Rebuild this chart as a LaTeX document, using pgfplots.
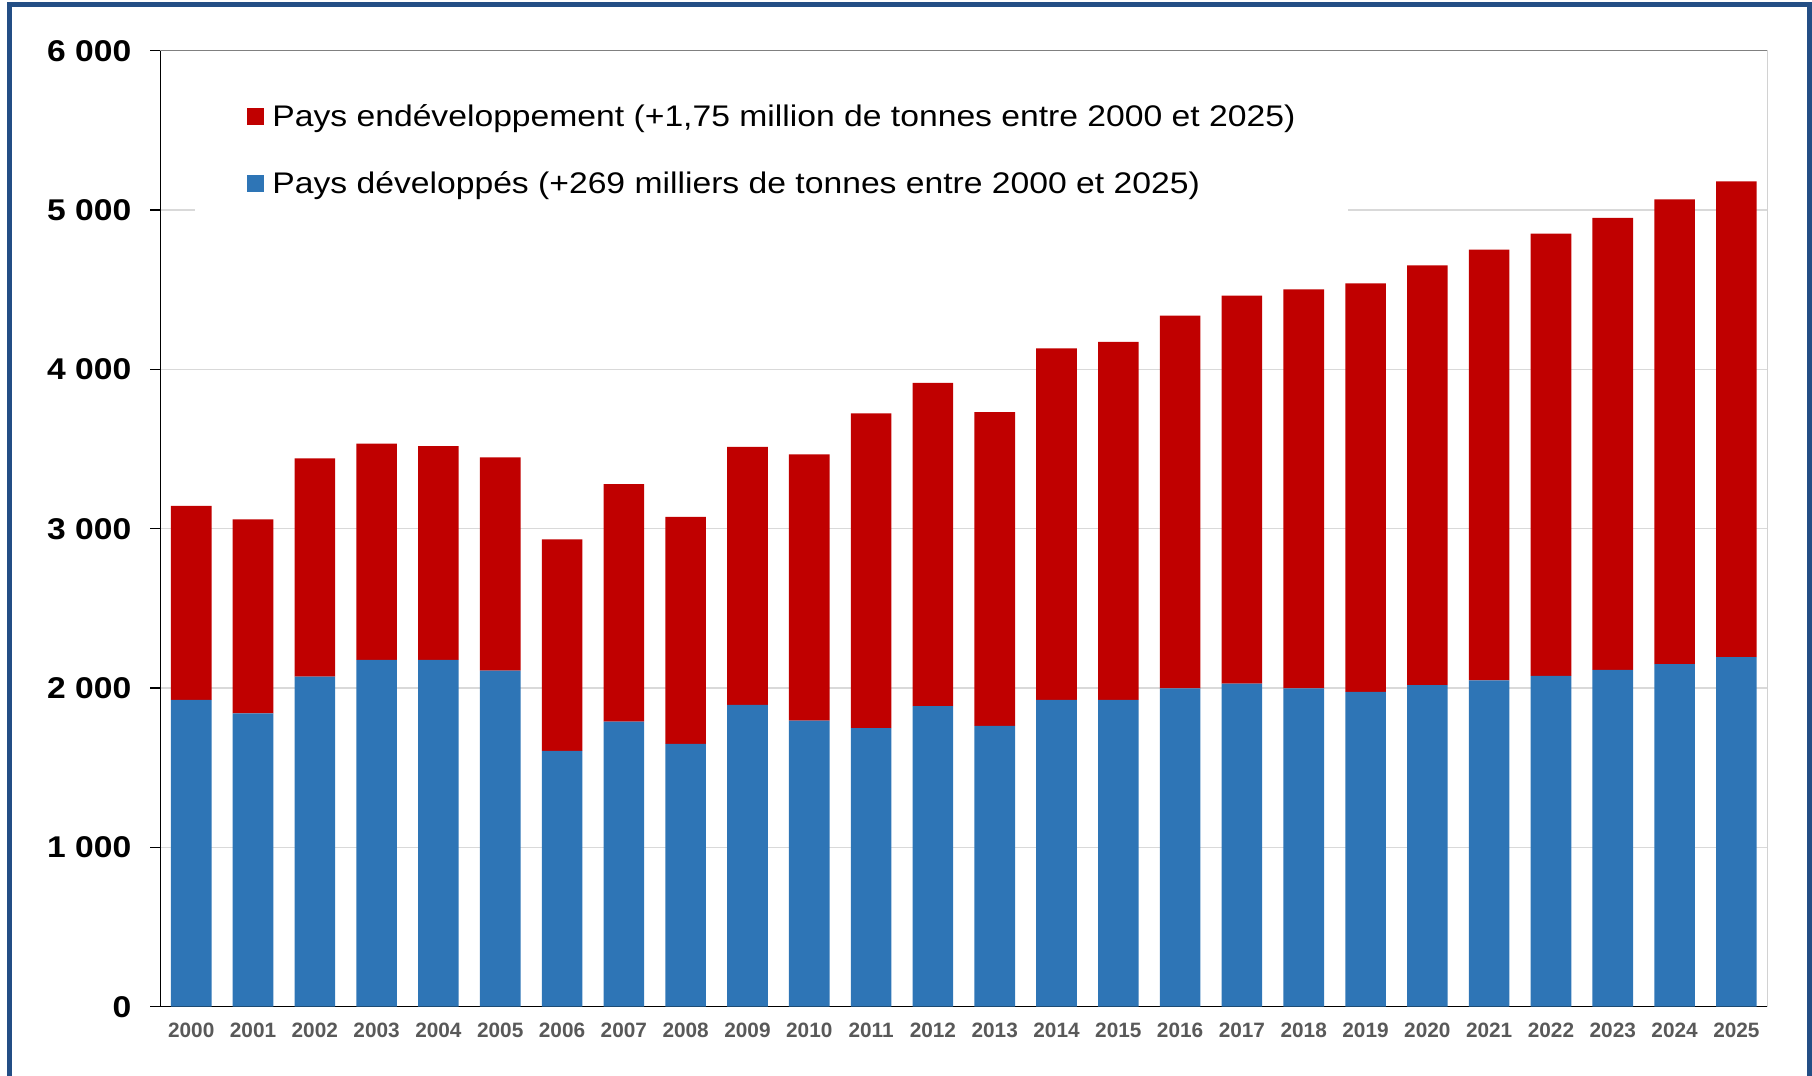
\documentclass[border=0pt]{standalone}
\usepackage{pgfplots}
\pgfplotsset{compat=1.18}
\usepackage{pgfplotstable}
\usepackage{fontspec}
\setmainfont{Liberation Sans}
\newfontfamily\legfont[FakeStretch=1.13]{Liberation Sans}
\newfontfamily\ylabfont[FakeStretch=1.12]{Liberation Sans Bold}
\definecolor{devblue}{RGB}{46,117,182}
\definecolor{devred}{RGB}{192,0,0}
\definecolor{framecol}{RGB}{35,78,133}
\definecolor{gridcol}{RGB}{217,217,217}
\definecolor{xlab}{RGB}{89,89,89}
\pgfplotsset{sqlegend/.style={legend image code/.code={\fill[##1] (0pt,-2.75pt) rectangle (8.5pt,5.75pt);}}}

\pgfplotstableread{
x dev red
0 1925 1219
1 1841 1218
2 2071 1371
3 2176 1358
4 2176 1343
5 2109 1339
6 1605 1328
7 1789 1490
8 1649 1425
9 1894 1619
10 1795 1672
11 1749 1975
12 1887 2028
13 1762 1969
14 1925 2207
15 1925 2247
16 1998 2339
17 2027 2436
18 1998 2504
19 1976 2564
20 2019 2634
21 2048 2703
22 2077 2775
23 2114 2836
24 2150 2917
25 2194 2986
}\datatable

\begin{document}
\begin{tikzpicture}
\useasboundingbox (0,0) rectangle (906pt,538pt);
\begin{axis}[
  at={(80.15pt,34.65pt)}, anchor=south west,
  scale only axis, width=803.5pt, height=478pt,
  ybar stacked, bar width=20.3pt,
  xmin=-0.5, xmax=25.5, ymin=0, ymax=6000,
  axis lines*=left,
  axis line style={black, line width=0.7pt},
  xtick={0,...,25},
  xticklabels={2000,2001,2002,2003,2004,2005,2006,2007,2008,2009,2010,2011,2012,2013,2014,2015,2016,2017,2018,2019,2020,2021,2022,2023,2024,2025},
  xtick style={draw=none},
  xtick align=inside,
  ytick={0,1000,2000,3000,4000,5000,6000},
  yticklabels={0,1~000,2~000,3~000,4~000,5~000,6~000},
  ytick align=outside,
  major tick length=5pt,
  ytick style={black, line width=0.7pt},
  ymajorgrids,
  grid style={gridcol, line width=0.6pt},
  yticklabel style={font=\ylabfont\fontsize{15pt}{17pt}\selectfont, inner sep=0pt, anchor=east, xshift=-9.3pt},
  xticklabel style={font=\bfseries\fontsize{10.4pt}{12pt}\selectfont, text=xlab, inner sep=0pt, anchor=north, yshift=-8pt},
  reverse legend,
  legend cell align=left,
  legend style={at={(0.0216,0.965)}, anchor=north west, draw=none, fill=white,
    font=\legfont\fontsize{14.9pt}{17pt}\selectfont,
    inner xsep=26pt, inner ysep=10pt, row sep=19pt,
    nodes={inner sep=0pt, text height=11pt, text depth=3.5pt}},
]
\addplot[fill=devblue, draw=none, sqlegend]
  table[x=x,y=dev]{\datatable};
\addlegendentry{\hspace{4pt}Pays développés (+269 milliers de tonnes entre 2000 et 2025)}
\addplot[fill=devred, draw=none, sqlegend]
  table[x=x,y=red]{\datatable};
\addlegendentry{\hspace{4pt}Pays endéveloppement (+1,75 million de tonnes entre 2000 et 2025)\hspace{22pt}}
\draw[gray, line width=0.7pt] (rel axis cs:0,1) -- (rel axis cs:1,1) -- (rel axis cs:1,0);
\end{axis}
\draw[framecol, line width=2.5pt] (4.75pt,-10pt) -- (4.75pt,535.5pt) -- (904.75pt,535.5pt) -- (904.75pt,-10pt);
\end{tikzpicture}
\end{document}
